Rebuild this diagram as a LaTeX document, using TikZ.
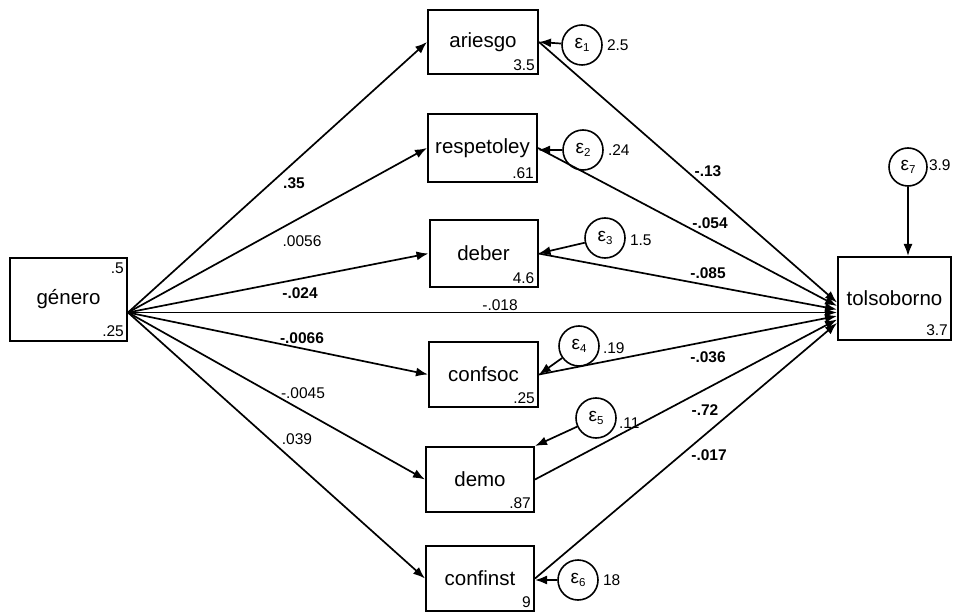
\documentclass[tikz,border=0pt]{standalone}
\usepackage{fontspec}
\setmainfont{Liberation Sans}
\usetikzlibrary{arrows.meta,calc}
\begin{document}
\begin{tikzpicture}[x=1pt,y=-1pt,
  var/.style={draw,line width=2pt,inner sep=0pt,font=\fontsize{20.5}{20.5}\selectfont},
  err/.style={draw,circle,line width=1.6pt,minimum size=40pt,inner sep=0pt},
  pth/.style={line width=1.7pt,-{Latex[length=12pt,width=9pt]}},
  num/.style={inner sep=0pt,font=\fontsize{15.5}{15.5}\selectfont},
  bnum/.style={inner sep=0pt,font=\fontsize{15.5}{15.5}\selectfont\bfseries},
]
\useasboundingbox (0,0) rectangle (953,612);
\newcommand{\eps}[1]{{\fontsize{19}{19}\selectfont ε}\raisebox{-0.55ex}{\fontsize{11.5}{11.5}\selectfont #1}}

% observed variables
\node[var,minimum width=117pt,minimum height=83pt] (gen) at (68.5,299.5) {género};
\node[var,minimum width=110pt,minimum height=64pt] (aries) at (483,42) {ariesgo};
\node[var,minimum width=109pt,minimum height=68pt] (resp) at (482.5,148) {respetoley};
\node[var,minimum width=108pt,minimum height=67pt] (deber) at (483.5,253.5) {deber};
\node[var,minimum width=109pt,minimum height=65pt] (conf) at (483.5,374.5) {confsoc};
\node[var,minimum width=108pt,minimum height=65pt] (demo) at (480,479.5) {demo};
\node[var,minimum width=108pt,minimum height=65pt] (cinst) at (480,578.5) {confinst};
\node[var,minimum width=113pt,minimum height=83pt] (tol) at (894.5,298.5) {tolsoborno};

% numbers inside boxes
\node[num,anchor=north east] (genm) at ($(gen.north east)+(-4,6)$) {.5};
\node[num,anchor=south east] (genv) at ($(gen.south east)+(-4,-5)$) {.25};
\node[num,anchor=south east] (ariesv) at ($(aries.south east)+(-4,-4)$) {3.5};
\node[num,anchor=south east] (respv) at ($(resp.south east)+(-4,-4)$) {.61};
\node[num,anchor=south east] (deberv) at ($(deber.south east)+(-4,-4)$) {4.6};
\node[num,anchor=south east] (confv) at ($(conf.south east)+(-4,-4)$) {.25};
\node[num,anchor=south east] (demov) at ($(demo.south east)+(-4,-4)$) {.87};
\node[num,anchor=south east] (cinstv) at ($(cinst.south east)+(-4,-4)$) {9};
\node[num,anchor=south east] (tolv) at ($(tol.south east)+(-4,-5)$) {3.7};

% error terms
\node[err] (e1) at (582,45) {\eps{1}};
\node[err] (e2) at (583,150) {\eps{2}};
\node[err] (e3) at (605,238) {\eps{3}};
\node[err] (e4) at (579,346) {\eps{4}};
\node[err] (e5) at (596,418) {\eps{5}};
\node[err] (e6) at (578,580) {\eps{6}};
\node[err,minimum size=38pt] (e7) at (908,167) {\eps{7}};

\node[num,anchor=west] (e1v) at ($(e1.east)+(4,0)$) {2.5};
\node[num,anchor=west] (e2v) at ($(e2.east)+(4,0)$) {.24};
\node[num,anchor=west] (e3v) at ($(e3.east)+(4,2)$) {1.5};
\node[num,anchor=west] (e4v) at ($(e4.east)+(3,2)$) {.19};
\node[num,anchor=west] (e5v) at ($(e5.east)+(2,5)$) {.11};
\node[num,anchor=west] (e6v) at ($(e6.east)+(4,0)$) {18};
\node[num,anchor=west] (e7v) at ($(e7.east)+(1,-2)$) {3.9};

% error arrows
\draw[pth] (e1) -- (aries.east);
\draw[pth] (e2) -- (resp.east |- e2);
\draw[pth] (e3) -- (deber.east);
\draw[pth] (e4) -- (conf.east);
\draw[pth] (e5) -- (demo.north east);
\draw[pth] (e6) -- (cinst.east |- e6);
\draw[pth] (e7) -- (tol.north -| e7);

% fan points
\coordinate (gf) at ($(gen.east)+(0,13)$);
\coordinate (t1) at ($(tol.west)+(0,4)$);
\coordinate (t2) at ($(tol.west)+(0,7.5)$);
\coordinate (t3) at ($(tol.west)+(0,11)$);
\coordinate (tg) at ($(tol.west)+(0,14)$);
\coordinate (t4) at ($(tol.west)+(0,17.5)$);
\coordinate (t5) at ($(tol.west)+(0,21)$);
\coordinate (t6) at ($(tol.west)+(0,24.5)$);

% paths from género
\draw[pth] (gf) -- (aries.west);
\draw[pth] (gf) -- (resp.west);
\draw[pth] (gf) -- (deber.west);
\draw[pth] (gf) -- (tg);
\draw[pth] (gf) -- (conf.west);
\draw[pth] (gf) -- (demo.west);
\draw[pth] (gf) -- (cinst.west);

% paths to tolsoborno
\draw[pth] (aries.east) -- (t1);
\draw[pth] (resp.east) -- (t2);
\draw[pth] (deber.east) -- (t3);
\draw[pth] (conf.east) -- (t4);
\draw[pth] (demo.east) -- (t5);
\draw[pth] (cinst.east) -- (t6);

% coefficients
\node[bnum] (c1) at (294,183) {.35};
\node[num] (c2) at (302,241) {.0056};
\node[bnum] (c3) at (300,293) {-.024};
\node[num] (c4) at (500,305) {-.018};
\node[bnum] (c5) at (302,338) {-.0066};
\node[num] (c6) at (303,393) {-.0045};
\node[num] (c7) at (297,439) {.039};

\node[bnum] (d1) at (708,171) {-.13};
\node[bnum] (d2) at (710,223) {-.054};
\node[bnum] (d3) at (708,273) {-.085};
\node[bnum] (d4) at (708,357) {-.036};
\node[bnum] (d5) at (705,410) {-.72};
\node[bnum] (d6) at (709,455) {-.017};
\end{tikzpicture}
\end{document}
